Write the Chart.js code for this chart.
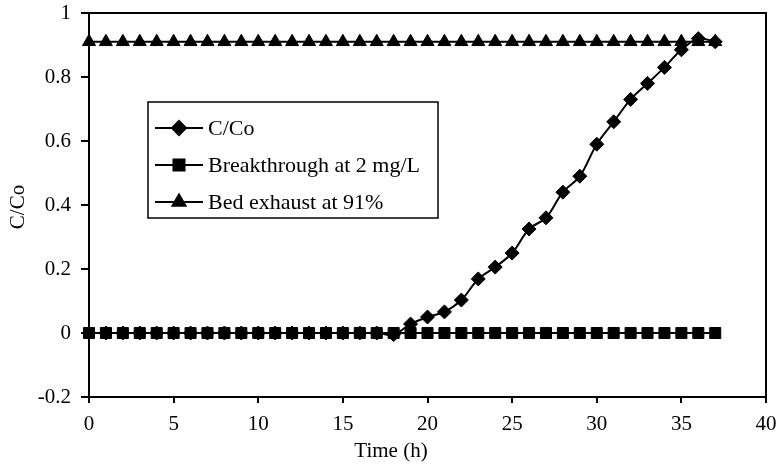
<!DOCTYPE html>
<html>
<head>
<meta charset="utf-8">
<script src="https://cdn.jsdelivr.net/npm/chart.js@4/dist/chart.umd.min.js"></script>
<style>
  html, body { margin: 0; padding: 0; background: #fff; }
  #wrap { width: 778px; height: 465px; position: relative; }
</style>
</head>
<body>
<div id="wrap"><canvas id="c" width="778" height="465"></canvas></div>
<script>
// Sampling times (h)
const timeHours = [0,1,2,3,4,5,6,7,8,9,10,11,12,13,14,15,16,17,18,19,
                   20,21,22,23,24,25,26,27,28,29,30,31,32,33,34,35,36,37];
// Effluent ratio C/Co at each sampling time
const ratioCCo = [0,0,0,0,0,0,0,0,0,0,0,0,0,0,0,0,0,0,-0.005,0.028,
                  0.05,0.066,0.103,0.169,0.206,0.25,0.325,0.36,0.44,0.49,
                  0.59,0.66,0.73,0.78,0.83,0.885,0.92,0.91];
// Reference levels
const breakthroughLevel = 0;     // breakthrough at 2 mg/L
const exhaustLevel = 0.91;       // bed exhaust at 91%
// Axis ticks
const xTicks = [0,5,10,15,20,25,30,35,40];
const yTicks = [-0.2,0,0.2,0.4,0.6,0.8,1];

const seriesNames = ['C/Co', 'Breakthrough at 2 mg/L', 'Bed exhaust at 91%'];

const FONT = '"Liberation Serif", "Times New Roman", serif';

const toPoints = (xs, ys) => xs.map((x, i) => ({ x: x, y: ys[i] }));
const constPoints = (xs, v) => xs.map(x => ({ x: x, y: v }));

const datasets = [
  {
    label: seriesNames[2],
    data: constPoints(timeHours, exhaustLevel),
    pointStyle: 'triangle', pointRadius: 7.5
  },
  {
    label: seriesNames[1],
    data: constPoints(timeHours, breakthroughLevel),
    pointStyle: 'rect', pointRadius: 7.8
  },
  {
    label: seriesNames[0],
    data: toPoints(timeHours, ratioCCo),
    pointStyle: 'rectRot', pointRadius: 7,
    tension: 0.35
  }
].map(d => Object.assign({
  borderColor: '#000', backgroundColor: '#000',
  pointBackgroundColor: '#000', pointBorderColor: '#000',
  borderWidth: 2, pointBorderWidth: 1, tension: 0, clip: false
}, d));

// Frame, axis titles and boxed legend
const decorations = {
  id: 'decorations',
  afterDraw(chart) {
    const ctx = chart.ctx;
    const a = chart.chartArea;
    ctx.save();
    ctx.strokeStyle = '#000';
    ctx.lineWidth = 2;
    ctx.beginPath();
    ctx.moveTo(a.left, a.top);
    ctx.lineTo(a.right, a.top);
    ctx.lineTo(a.right, a.bottom);
    ctx.stroke();

    // axis titles
    ctx.fillStyle = '#000';
    ctx.font = '21px ' + FONT;
    ctx.textAlign = 'center';
    ctx.textBaseline = 'middle';
    ctx.fillText('Time (h)', 391, 451);
    ctx.save();
    ctx.translate(18, 207);
    ctx.rotate(-Math.PI / 2);
    ctx.fillText('C/Co', 0, 0);
    ctx.restore();

    // legend
    const box = { x: 148, y: 102, w: 290, h: 116 };
    ctx.lineWidth = 1.5;
    ctx.strokeRect(box.x, box.y, box.w, box.h);
    const rows = [
      { ds: chart.data.datasets[2], y: 128 },
      { ds: chart.data.datasets[1], y: 165 },
      { ds: chart.data.datasets[0], y: 202 }
    ];
    ctx.textAlign = 'left';
    rows.forEach(r => {
      ctx.strokeStyle = '#000';
      ctx.lineWidth = 2;
      ctx.beginPath();
      ctx.moveTo(155, r.y);
      ctx.lineTo(203, r.y);
      ctx.stroke();
      ctx.fillStyle = '#000';
      Chart.helpers.drawPoint(ctx, {
        pointStyle: r.ds.pointStyle,
        radius: r.ds.pointRadius,
        rotation: 0,
        borderWidth: 1
      }, 179, r.y);
      ctx.fillStyle = '#000';
      ctx.font = '22px ' + FONT;
      ctx.textBaseline = 'middle';
      ctx.fillText(r.ds.label, 208, r.y + 1);
    });
    ctx.restore();
  }
};

const fmt = v => String(Number(Number(v).toFixed(1)));

new Chart(document.getElementById('c'), {
  type: 'line',
  data: { datasets: datasets },
  plugins: [decorations],
  options: {
    responsive: false,
    animation: false,
    layout: { padding: { top: 13, right: 12, left: 0, bottom: 0 } },
    plugins: { legend: { display: false }, tooltip: { enabled: false } },
    scales: {
      x: {
        type: 'linear',
        min: xTicks[0], max: xTicks[xTicks.length - 1],
        afterBuildTicks: s => { s.ticks = xTicks.map(v => ({ value: v })); },
        afterFit: s => { s.height = 68; s.paddingLeft = 0; s.paddingRight = 0; },
        ticks: { color: '#000', font: { family: FONT, size: 21 }, padding: 9, maxRotation: 0, callback: fmt },
        grid: { display: true, drawOnChartArea: false, tickLength: 6, color: '#000', lineWidth: 2 },
        border: { display: true, color: '#000', width: 2 }
      },
      y: {
        type: 'linear',
        min: yTicks[0], max: yTicks[yTicks.length - 1],
        afterBuildTicks: s => { s.ticks = yTicks.map(v => ({ value: v })); },
        afterFit: s => { s.width = 89; s.paddingTop = 0; s.paddingBottom = 0; },
        ticks: { color: '#000', font: { family: FONT, size: 21 }, padding: 10, callback: fmt },
        grid: { display: true, drawOnChartArea: false, tickLength: 8, color: '#000', lineWidth: 2 },
        border: { display: true, color: '#000', width: 2 }
      }
    }
  }
});
</script>
</body>
</html>
